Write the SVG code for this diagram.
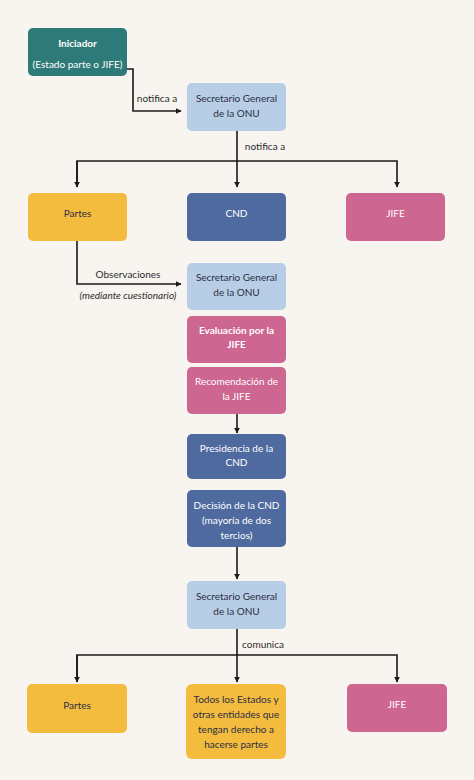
<svg xmlns="http://www.w3.org/2000/svg" width="474" height="780" viewBox="0 0 474 780">
<defs>
<marker id="ah" viewBox="0 0 10 10" refX="9" refY="5" markerWidth="6" markerHeight="6" markerUnits="userSpaceOnUse" orient="auto">
<path d="M0,0 L10,5 L0,10 z" fill="#1a1a1a"/>
</marker>
<style>
.n{stroke:none}
.teal{fill:#2e7a78}.lb{fill:#b8cee6}.yl{fill:#f4bc3e}.bl{fill:#4f6a9f}.pk{fill:#cd6690}
text{font-family:Lato,"Open Sans","DejaVu Sans",sans-serif;font-size:10px;text-anchor:middle}
.w{fill:#ffffff}.d{fill:#2b2e45}.b{font-weight:bold}
.lbl{fill:#2b2b2b;font-size:10px}
.c{fill:none;stroke:#1a1a1a;stroke-width:1.6}
</style>
</defs>
<rect width="474" height="780" fill="#f8f5f1"/>
<g id="connectors">
<polyline class="c" points="127,69 133,69 133,111 181,111" marker-end="url(#ah)"/>
<text class="lbl" x="157" y="102">notifica a</text>
<line class="c" x1="237" y1="131" x2="237" y2="187" marker-end="url(#ah)"/>
<polyline class="c" points="77,187 77,161 397,161 397,187" marker-end="url(#ah)"/>
<line class="c" x1="77" y1="161" x2="77" y2="187" marker-end="url(#ah)"/>
<text class="lbl" x="265" y="150">notifica a</text>
<polyline class="c" points="77,241 77,284 181,284" marker-end="url(#ah)"/>
<text class="lbl" x="128" y="278">Observaciones</text>
<text class="lbl" x="128" y="299" font-style="italic">(mediante cuestionario)</text>
<line class="c" x1="237" y1="414" x2="237" y2="433" marker-end="url(#ah)"/>
<line class="c" x1="237" y1="547" x2="237" y2="579" marker-end="url(#ah)"/>
<line class="c" x1="237" y1="629" x2="237" y2="682" marker-end="url(#ah)"/>
<polyline class="c" points="77,682 77,655 397,655 397,682" marker-end="url(#ah)"/>
<line class="c" x1="77" y1="655" x2="77" y2="682" marker-end="url(#ah)"/>
<text class="lbl" x="263" y="648">comunica</text>
</g>
<g id="iniciador"><rect class="teal" x="28" y="28" width="99" height="48" rx="5"/><text class="w b" x="77.5" y="47">Iniciador</text><text class="w" x="77.5" y="68">(Estado parte o JIFE)</text></g>
<g id="sg1"><rect class="lb" x="187" y="83" width="99" height="48" rx="5"/><text class="d" x="236.5" y="102">Secretario General</text><text class="d" x="236.5" y="117">de la ONU</text></g>
<g id="partes1"><rect class="yl" x="28" y="193" width="99" height="48" rx="5"/><text class="d" x="77.5" y="217">Partes</text></g>
<g id="cnd"><rect class="bl" x="187" y="193" width="99" height="48" rx="5"/><text class="w" x="236.5" y="217">CND</text></g>
<g id="jife1"><rect class="pk" x="346" y="193" width="99" height="48" rx="5"/><text class="w" x="395.5" y="217">JIFE</text></g>
<g id="sg2"><rect class="lb" x="187" y="263" width="99" height="47" rx="5"/><text class="d" x="236.5" y="281">Secretario General</text><text class="d" x="236.5" y="296">de la ONU</text></g>
<g id="evaluacion"><rect class="pk" x="187" y="316" width="99" height="47" rx="5"/><text class="w b" x="236.5" y="334">Evaluación por la</text><text class="w b" x="236.5" y="348">JIFE</text></g>
<g id="recomendacion"><rect class="pk" x="187" y="367" width="99" height="47" rx="5"/><text class="w" x="236.5" y="385">Recomendación de</text><text class="w" x="236.5" y="400">la JIFE</text></g>
<g id="presidencia"><rect class="bl" x="187" y="434" width="99" height="45" rx="5"/><text class="w" x="236.5" y="452">Presidencia de la</text><text class="w" x="236.5" y="466">CND</text></g>
<g id="decision"><rect class="bl" x="187" y="490" width="99" height="57" rx="5"/><text class="w" x="236.5" y="509">Decisión de la CND</text><text class="w" x="236.5" y="524">(mayoría de dos</text><text class="w" x="236.5" y="539">tercios)</text></g>
<g id="sg3"><rect class="lb" x="187" y="581" width="99" height="48" rx="5"/><text class="d" x="236.5" y="600">Secretario General</text><text class="d" x="236.5" y="615">de la ONU</text></g>
<g id="partes2"><rect class="yl" x="27" y="684" width="100" height="49" rx="5"/><text class="d" x="77" y="709">Partes</text></g>
<g id="todos"><rect class="yl" x="186" y="684" width="100" height="75" rx="6"/><text class="d" x="236" y="703">Todos los Estados y</text><text class="d" x="236" y="718">otras entidades que</text><text class="d" x="236" y="733">tengan derecho a</text><text class="d" x="236" y="748">hacerse partes</text></g>
<g id="jife2"><rect class="pk" x="347" y="684" width="100" height="48" rx="5"/><text class="w" x="397" y="708">JIFE</text></g>
</svg>
